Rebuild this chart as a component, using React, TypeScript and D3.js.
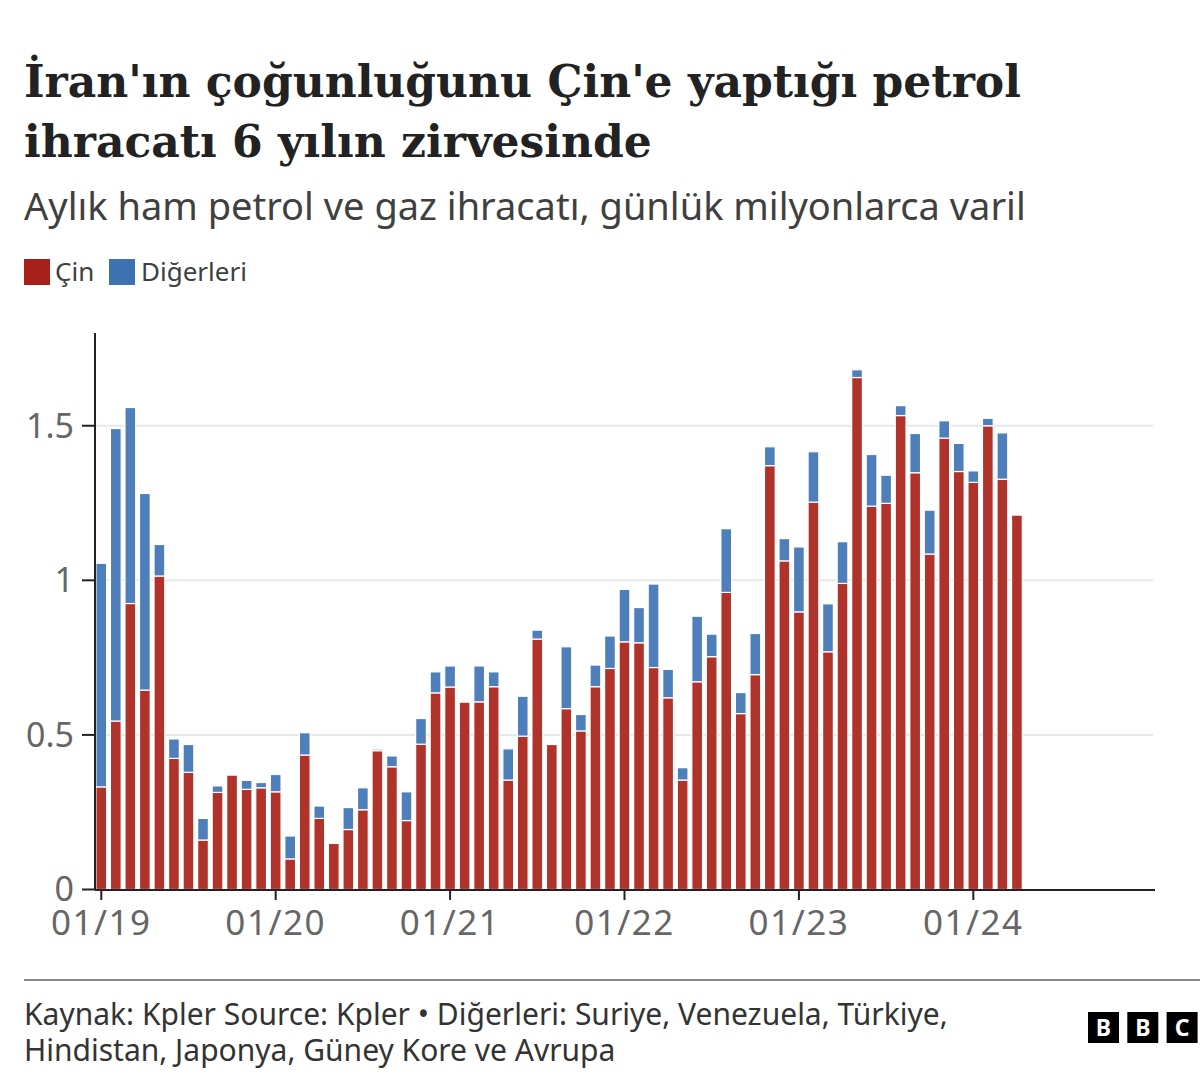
import React from "react";
import * as d3 from "d3";

const months: string[] = [
  "2019-01","2019-02","2019-03","2019-04","2019-05","2019-06","2019-07","2019-08","2019-09","2019-10","2019-11","2019-12",
  "2020-01","2020-02","2020-03","2020-04","2020-05","2020-06","2020-07","2020-08","2020-09","2020-10","2020-11","2020-12",
  "2021-01","2021-02","2021-03","2021-04","2021-05","2021-06","2021-07","2021-08","2021-09","2021-10","2021-11","2021-12",
  "2022-01","2022-02","2022-03","2022-04","2022-05","2022-06","2022-07","2022-08","2022-09","2022-10","2022-11","2022-12",
  "2023-01","2023-02","2023-03","2023-04","2023-05","2023-06","2023-07","2023-08","2023-09","2023-10","2023-11","2023-12",
  "2024-01","2024-02","2024-03","2024-04",
];

const china: number[] = [
  0.332, 0.545, 0.925, 0.645, 1.014, 0.424, 0.379, 0.160, 0.314, 0.370, 0.324, 0.329,
  0.316, 0.099, 0.435, 0.230, 0.149, 0.194, 0.258, 0.449, 0.397, 0.223, 0.470, 0.636,
  0.655, 0.606, 0.607, 0.656, 0.354, 0.496, 0.810, 0.469, 0.585, 0.513, 0.656, 0.715,
  0.801, 0.798, 0.718, 0.620, 0.354, 0.672, 0.753, 0.961, 0.569, 0.695, 1.371, 1.063,
  0.898, 1.253, 0.769, 0.990, 1.656, 1.240, 1.249, 1.533, 1.348, 1.085, 1.460, 1.352,
  1.317, 1.500, 1.327, 1.211,
];

const totals: number[] = [
  1.055, 1.491, 1.559, 1.281, 1.116, 0.487, 0.469, 0.230, 0.335, 0.370, 0.353, 0.346,
  0.372, 0.173, 0.507, 0.270, 0.149, 0.265, 0.329, 0.454, 0.432, 0.316, 0.553, 0.704,
  0.723, 0.606, 0.723, 0.704, 0.455, 0.625, 0.839, 0.469, 0.785, 0.566, 0.726, 0.820,
  0.971, 0.912, 0.988, 0.712, 0.394, 0.884, 0.826, 1.167, 0.637, 0.828, 1.432, 1.135,
  1.108, 1.416, 0.924, 1.125, 1.681, 1.407, 1.340, 1.565, 1.475, 1.227, 1.516, 1.443,
  1.354, 1.524, 1.477, 1.211,
];

const others: number[] = totals.map((t, i) => Math.max(0, +(t - china[i]).toFixed(3)));

const yTicks: number[] = [0, 0.5, 1, 1.5];
const xTickMonths: string[] = ["2019-01", "2020-01", "2021-01", "2022-01", "2023-01", "2024-01"];
const xTickLabels: string[] = ["01/19", "01/20", "01/21", "01/22", "01/23", "01/24"];

const seriesNames: string[] = ["Çin", "Diğerleri"];
const seriesColors: string[] = ["#b0332b", "#4f7fba"];
const legendColors: string[] = ["#a8201a", "#3d72b0"];

const titleLines: string[] = ["İran'ın çoğunluğunu Çin'e yaptığı petrol", "ihracatı 6 yılın zirvesinde"];
const subtitle = "Aylık ham petrol ve gaz ihracatı, günlük milyonlarca varil";
const footerLines: string[] = [
  "Kaynak: Kpler Source: Kpler • Diğerleri: Suriye, Venezuela, Türkiye,",
  "Hindistan, Japonya, Güney Kore ve Avrupa",
];

const W = 1200;
const H = 1086;
const TOTAL_SLOTS = 73; // Jan 2019 .. Jan 2025 axis span

export default function App() {
  const left = 95;
  const right = 1155;
  const x = d3.scaleLinear().domain([-0.5, TOTAL_SLOTS - 0.5]).range([left - 1, right]);
  const step = x(1) - x(0);
  const barW = step * 0.74;
  const y = d3.scaleLinear().domain([0, 1.8]).range([889.5, 333]);

  const stackData = months.map((m, i) => ({ m, china: china[i], others: others[i] }));
  const stacked = d3.stack<any>().keys(["china", "others"])(stackData);

  const sans = "'Noto Sans', 'Open Sans', sans-serif";
  const serif = "'DejaVu Serif', serif";

  return (
    <svg width={W} height={H} style={{ display: "block", position: "absolute", left: 0, top: 0, background: "#fff" }}>
      <rect x={0} y={0} width={W} height={H} fill="#fff" />
      {titleLines.map((t, i) => (
        <text key={i} x={24} y={97 + i * 60} fontFamily={serif} fontWeight={700} fontSize={44} fill="#222">
          {t}
        </text>
      ))}
      <text x={24} y={220} fontFamily={sans} fontSize={38} fill="#404040">{subtitle}</text>

      {/* legend */}
      <g fontFamily={sans} fontSize={26} fill="#404040">
        <rect x={24} y={259} width={26} height={26} fill={legendColors[0]} />
        <text x={55} y={281}>{seriesNames[0]}</text>
        <rect x={109} y={259} width={26} height={26} fill={legendColors[1]} />
        <text x={141} y={281}>{seriesNames[1]}</text>
      </g>

      {/* gridlines */}
      {yTicks.filter((t) => t > 0).map((t) => (
        <line key={t} x1={left} x2={1153} y1={y(t)} y2={y(t)} stroke="#e8e8e8" strokeWidth={2} />
      ))}

      {/* bars */}
      {stacked.map((s, si) => (
        <g key={si} fill={seriesColors[si]}>
          {s.map((d, i) => {
            const h = y(d[0]) - y(d[1]);
            if (h <= 0.01) return null;
            return (
              <rect
                key={i}
                x={x(i) - barW / 2}
                y={y(d[1])}
                width={barW}
                height={h}
                stroke="#fff"
                strokeWidth={1.2}
              />
            );
          })}
        </g>
      ))}

      {/* y axis */}
      <line x1={left} x2={left} y1={333} y2={890} stroke="#222" strokeWidth={2} />
      {yTicks.map((t) => (
        <g key={t}>
          <line x1={82} x2={left} y1={y(t)} y2={y(t)} stroke="#222" strokeWidth={2} />
          <text x={74} y={y(t)} dy="0.35em" textAnchor="end" fontFamily={sans} fontSize={34} fill="#666">
            {d3.format("~g")(t)}
          </text>
        </g>
      ))}

      {/* x axis */}
      <line x1={left} x2={right} y1={890} y2={890} stroke="#222" strokeWidth={2} />
      {xTickMonths.map((m, k) => {
        const xi = x(months.indexOf(m));
        return (
          <g key={m}>
            <line x1={xi} x2={xi} y1={890} y2={900} stroke="#222" strokeWidth={2} />
            <text x={xi} y={935} textAnchor="middle" fontFamily={sans} fontSize={35} letterSpacing={1.5} fill="#666">
              {xTickLabels[k]}
            </text>
          </g>
        );
      })}

      {/* footer */}
      <line x1={24} x2={1200} y1={980} y2={980} stroke="#8a8a8a" strokeWidth={2} />
      {footerLines.map((t, i) => (
        <text key={i} x={24} y={1025 + i * 36} fontFamily={sans} fontSize={30} fill="#333">
          {t}
        </text>
      ))}
      {["B", "B", "C"].map((c, i) => (
        <g key={i}>
          <rect x={1088 + i * 39.3} y={1012} width={31} height={31} fill="#000" />
          <text x={1088 + i * 39.3 + 15.5} y={1036} textAnchor="middle" fontFamily={sans} fontWeight={700} fontSize={23} fill="#fff">
            {c}
          </text>
        </g>
      ))}
    </svg>
  );
}
